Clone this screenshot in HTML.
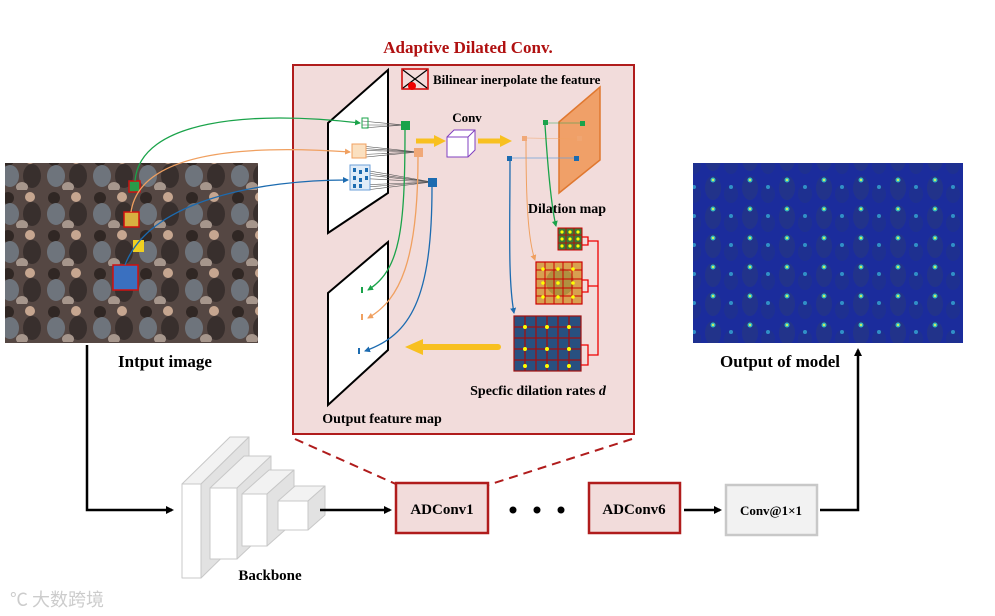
<!DOCTYPE html>
<html><head><meta charset="utf-8"><style>
body{margin:0;background:#fff;width:995px;height:616px;overflow:hidden}
svg{display:block;font-family:"Liberation Serif",serif;font-weight:bold}
</style></head><body>
<svg width="995" height="616" viewBox="0 0 995 616" xmlns="http://www.w3.org/2000/svg">
<defs>
<marker id="ak" markerWidth="8" markerHeight="8" refX="6" refY="4" orient="auto" markerUnits="userSpaceOnUse"><path d="M0,0 L8,4 L0,8 z" fill="#000"/></marker>
<marker id="ag" markerWidth="6" markerHeight="6" refX="5" refY="3" orient="auto" markerUnits="userSpaceOnUse"><path d="M0,0 L6,3 L0,6 z" fill="#1aa34a"/></marker>
<marker id="ao" markerWidth="6" markerHeight="6" refX="5" refY="3" orient="auto" markerUnits="userSpaceOnUse"><path d="M0,0 L6,3 L0,6 z" fill="#f0a060"/></marker>
<marker id="ab" markerWidth="6" markerHeight="6" refX="5" refY="3" orient="auto" markerUnits="userSpaceOnUse"><path d="M0,0 L6,3 L0,6 z" fill="#1c6bb0"/></marker>
<pattern id="crowd" width="46" height="38" patternUnits="userSpaceOnUse">
<rect width="46" height="38" fill="#4a4240"/>
<circle cx="8" cy="8" r="6" fill="#1c1a1a"/><ellipse cx="10" cy="24" rx="9" ry="11" fill="#6a7a88"/>
<circle cx="30" cy="7" r="5" fill="#d8b8a0"/><ellipse cx="32" cy="24" rx="9" ry="12" fill="#262425"/>
<ellipse cx="22" cy="35" rx="6" ry="5" fill="#b0a49c"/>
</pattern>
<pattern id="heat" width="37" height="29" patternUnits="userSpaceOnUse">
<rect width="37" height="29" fill="#1b2c9c"/>
<ellipse cx="10" cy="14" rx="8" ry="12" fill="#22338a"/><circle cx="10" cy="6" r="2.5" fill="#30b8c0"/><circle cx="10" cy="6" r="1.2" fill="#c8f060"/>
<ellipse cx="28" cy="20" rx="7" ry="9" fill="#1e3090"/><circle cx="28" cy="13" r="2" fill="#3090c8"/>
</pattern>
</defs>

<!-- input image -->
<rect x="5" y="163" width="253" height="180" fill="url(#crowd)"/>
<rect x="5" y="163" width="253" height="180" fill="#806050" opacity="0.2"/>
<rect x="129" y="181" width="11" height="11" fill="#2a9a4a" stroke="#d01010" stroke-width="1.5"/>
<rect x="124" y="212" width="15" height="15" fill="#d8b040" stroke="#d01010" stroke-width="1.5"/>
<rect x="133" y="240" width="11" height="12" fill="#f0d020"/>
<rect x="113" y="265" width="25" height="25" fill="#3a70c0" stroke="#d01010" stroke-width="1.5"/>
<text x="165" y="367" font-size="17" text-anchor="middle">Intput image</text>

<!-- output image -->
<rect x="693" y="163" width="270" height="180" fill="url(#heat)"/>
<text x="780" y="367" font-size="17" text-anchor="middle">Output of model</text>

<!-- title & box -->
<text x="468" y="53" font-size="17" fill="#b01010" text-anchor="middle">Adaptive Dilated Conv.</text>
<rect x="293" y="65" width="341" height="369" fill="#f2dcdb" stroke="#b01c1c" stroke-width="2"/>

<!-- legend -->
<rect x="402" y="69" width="26" height="20" fill="#f2dcdb" stroke="#c00" stroke-width="1.5"/>
<path d="M403,70 L427,88 M427,70 L403,88" stroke="#000" stroke-width="1.2"/>
<circle cx="412" cy="86" r="4" fill="#e00"/>
<text x="433" y="84" font-size="13">Bilinear inerpolate the feature</text>

<!-- feature maps -->
<polygon points="328,123 388,70 388,193 328,233" fill="#fff" stroke="#000" stroke-width="2"/>
<polygon points="328,293 388,242 388,350 328,405" fill="#fff" stroke="#000" stroke-width="2"/>

<!-- kernels -->
<g stroke="#555" stroke-width="0.6">
<path d="M362,121 L404,125 M362,125 L404,125 M362,128 L404,125"/>
<path d="M352,145 L418,152 M352,150 L418,152 M352,155 L418,152 M356,148 L418,152 M356,158 L418,152"/>
<path d="M353,168 L432,182 M353,178 L432,182 M353,188 L432,182 M360,172 L432,182 M360,185 L432,182 M366,175 L432,182 M366,190 L432,182"/>
</g>
<rect x="362" y="118" width="6" height="10" fill="none" stroke="#1aa34a" stroke-width="1"/>
<rect x="352" y="144" width="14" height="14" fill="#fbe0c0" stroke="#f0a060" stroke-width="1"/>
<rect x="350" y="165" width="20" height="25" fill="#e0ecf8" stroke="#6ea0d8" stroke-width="1"/>
<g fill="#1c6bb0"><rect x="353" y="168" width="3" height="4"/><rect x="359" y="170" width="3" height="4"/><rect x="365" y="168" width="3" height="4"/><rect x="353" y="176" width="3" height="4"/><rect x="359" y="178" width="3" height="4"/><rect x="365" y="176" width="3" height="4"/><rect x="353" y="184" width="3" height="4"/><rect x="359" y="184" width="3" height="4"/></g>
<rect x="401" y="121" width="9" height="9" fill="#1aa34a"/>
<rect x="414" y="148" width="9" height="9" fill="#f0a878"/>
<rect x="428" y="178" width="9" height="9" fill="#1c6bb0"/>

<!-- curves from image -->
<path d="M135,181 C140,120 250,110 360,123" fill="none" stroke="#1aa34a" stroke-width="1.3" marker-end="url(#ag)"/>
<path d="M131,212 C140,150 250,145 350,152" fill="none" stroke="#f0a060" stroke-width="1.3" marker-end="url(#ao)"/>
<path d="M125,265 C150,200 260,180 348,180" fill="none" stroke="#1c6bb0" stroke-width="1.3" marker-end="url(#ab)"/>

<!-- curves to output map -->
<path d="M405,130 C405,230 400,270 368,290" fill="none" stroke="#1aa34a" stroke-width="1.3" marker-end="url(#ag)"/>
<rect x="361" y="287" width="2" height="6" fill="#1aa34a"/>
<path d="M418,157 C418,260 400,300 368,318" fill="none" stroke="#f0a060" stroke-width="1.3" marker-end="url(#ao)"/>
<rect x="361" y="314" width="2" height="6" fill="#f0a060"/>
<path d="M432,187 C432,300 410,335 365,351" fill="none" stroke="#1c6bb0" stroke-width="1.3" marker-end="url(#ab)"/>
<rect x="358" y="348" width="2" height="6" fill="#1c6bb0"/>

<!-- conv -->
<path d="M416,141 L437,141" stroke="#f8c020" stroke-width="5"/><polygon points="434,135 446,141 434,147" fill="#f8c020"/>
<polygon points="447,137 454,130 475,130 475,150 468,157 447,157" fill="#fff" stroke="#8040c0" stroke-width="1"/>
<path d="M447,137 L468,137 L475,130 M468,137 L468,157" fill="none" stroke="#8040c0" stroke-width="1"/>
<text x="467" y="122" font-size="13" text-anchor="middle">Conv</text>
<path d="M478,141 L502,141" stroke="#f8c020" stroke-width="5"/><polygon points="500,135 512,141 500,147" fill="#f8c020"/>

<!-- dilation map -->
<polygon points="559,122 600,87 600,160 559,193" fill="#f0a068" stroke="#e07830" stroke-width="1.5"/>
<path d="M582,123 L548,123" stroke="#1aa34a" stroke-width="0.8" opacity="0.6"/>
<path d="M578,139 L526,138" stroke="#f0a060" stroke-width="0.8" opacity="0.6"/>
<path d="M577,158 L512,158" stroke="#6ea0d8" stroke-width="0.8"/>
<rect x="543" y="120" width="5" height="5" fill="#1aa34a"/><rect x="580" y="121" width="5" height="5" fill="#1aa34a"/>
<rect x="522" y="136" width="5" height="5" fill="#f0a878"/><rect x="577" y="136" width="5" height="5" fill="#f0a878" opacity="0.6"/>
<rect x="507" y="156" width="5" height="5" fill="#1c6bb0"/><rect x="574" y="156" width="5" height="5" fill="#1c6bb0"/>
<text x="567" y="213" font-size="14" text-anchor="middle">Dilation map</text>

<path d="M545,125 C548,170 552,210 556,226" fill="none" stroke="#1aa34a" stroke-width="1.3" marker-end="url(#ag)"/>
<path d="M526,141 C526,200 528,240 535,260" fill="none" stroke="#f0a060" stroke-width="1" marker-end="url(#ao)"/>
<path d="M510,161 C510,230 508,280 514,313" fill="none" stroke="#1c6bb0" stroke-width="1.3" marker-end="url(#ab)"/>

<!-- grids -->
<g>
<rect x="558" y="228" width="24" height="22" fill="#3a7a3a" stroke="#c00" stroke-width="1"/>
<path d="M566,228 V250 M574,228 V250 M558,235 H582 M558,243 H582" stroke="#c00" stroke-width="0.8"/>
<g fill="#ff0"><circle cx="562" cy="232" r="1.6"/><circle cx="570" cy="232" r="1.6"/><circle cx="578" cy="232" r="1.6"/><circle cx="562" cy="239" r="1.6"/><circle cx="570" cy="239" r="1.6"/><circle cx="578" cy="239" r="1.6"/><circle cx="562" cy="246" r="1.6"/><circle cx="570" cy="246" r="1.6"/><circle cx="578" cy="246" r="1.6"/></g>
</g>
<g>
<rect x="536" y="262" width="46" height="42" fill="#d8a050" stroke="#c00" stroke-width="1.2"/>
<ellipse cx="560" cy="282" rx="14" ry="14" fill="#b09040"/>
<path d="M545,262 V304 M554,262 V304 M563,262 V304 M572,262 V304 M536,270 H582 M536,279 H582 M536,288 H582 M536,296 H582" stroke="#c00" stroke-width="1"/>
<g fill="#ff0"><circle cx="543" cy="269" r="1.8"/><circle cx="558" cy="269" r="1.8"/><circle cx="573" cy="269" r="1.8"/><circle cx="543" cy="283" r="1.8"/><circle cx="558" cy="283" r="1.8"/><circle cx="573" cy="283" r="1.8"/><circle cx="543" cy="297" r="1.8"/><circle cx="558" cy="297" r="1.8"/><circle cx="573" cy="297" r="1.8"/></g>
</g>
<g>
<rect x="514" y="316" width="67" height="55" fill="#285080" stroke="#a01010" stroke-width="1.2"/>
<path d="M525,316 V371 M536,316 V371 M547,316 V371 M558,316 V371 M569,316 V371 M514,327 H581 M514,338 H581 M514,349 H581 M514,360 H581" stroke="#a01010" stroke-width="1.3"/>
<g fill="#ff0"><circle cx="525" cy="327" r="2"/><circle cx="547" cy="327" r="2"/><circle cx="569" cy="327" r="2"/><circle cx="525" cy="349" r="2"/><circle cx="547" cy="349" r="2"/><circle cx="569" cy="349" r="2"/><circle cx="525" cy="366" r="2"/><circle cx="547" cy="366" r="2"/><circle cx="569" cy="366" r="2"/></g>
</g>
<!-- red brackets -->
<g fill="none" stroke="#e00" stroke-width="1.3">
<path d="M582,237 H588 V245 H582 M588,241 H598 V355 H588"/>
<path d="M582,280 H588 V292 H582 M588,286 H598"/>
<path d="M581,345 H588 V365 H581"/>
</g>
<path d="M498,347 H420" stroke="#f8c020" stroke-width="6" stroke-linecap="round"/>
<polygon points="423,339 405,347 423,355" fill="#f8c020"/>

<text x="538" y="395" font-size="14" text-anchor="middle">Specfic dilation rates <tspan font-style="italic">d</tspan></text>
<text x="382" y="423" font-size="14" text-anchor="middle">Output feature map</text>

<!-- dashed -->
<path d="M295,439 L398,485 M632,439 L488,485" stroke="#b01c1c" stroke-width="2" stroke-dasharray="9,6"/>

<!-- backbone -->
<g stroke="#c8c8c8" stroke-width="1" stroke-linejoin="round">
<polygon points="182,484 230,437 249,437 201,484" fill="#f2f2f2"/>
<polygon points="201,484 249,437 249,531 201,578" fill="#e2e2e2"/>
<rect x="182" y="484" width="19" height="94" fill="#fff"/>
<polygon points="210,488 244,456 271,456 237,488" fill="#f2f2f2"/>
<polygon points="237,488 271,456 271,527 237,559" fill="#e2e2e2"/>
<rect x="210" y="488" width="27" height="71" fill="#fff"/>
<polygon points="242,494 269,470 294,470 267,494" fill="#f2f2f2"/>
<polygon points="267,494 294,470 294,522 267,546" fill="#e2e2e2"/>
<rect x="242" y="494" width="25" height="52" fill="#fff"/>
<polygon points="278,501 295,486 325,486 308,501" fill="#f2f2f2"/>
<polygon points="308,501 325,486 325,515 308,530" fill="#e2e2e2"/>
<rect x="278" y="501" width="30" height="29" fill="#fff"/>
</g>
<text x="270" y="580" font-size="15" text-anchor="middle">Backbone</text>

<!-- flow -->
<path d="M87,345 V510 H172" fill="none" stroke="#000" stroke-width="2.5" marker-end="url(#ak)"/>
<path d="M320,510 H390" fill="none" stroke="#000" stroke-width="2.5" marker-end="url(#ak)"/>
<rect x="396" y="483" width="92" height="50" fill="#f2dcdb" stroke="#b01c1c" stroke-width="2.5"/>
<text x="442" y="514" font-size="15" text-anchor="middle">ADConv1</text>
<g fill="#000"><circle cx="513" cy="510" r="3.5"/><circle cx="537" cy="510" r="3.5"/><circle cx="561" cy="510" r="3.5"/></g>
<rect x="589" y="483" width="91" height="50" fill="#f2dcdb" stroke="#b01c1c" stroke-width="2.5"/>
<text x="634" y="514" font-size="15" text-anchor="middle">ADConv6</text>
<path d="M684,510 H720" fill="none" stroke="#000" stroke-width="2.5" marker-end="url(#ak)"/>
<rect x="726" y="485" width="91" height="50" fill="#f2f2f2" stroke="#c8c8c8" stroke-width="2.5"/>
<text x="771" y="515" font-size="13" text-anchor="middle">Conv@1×1</text>
<path d="M820,510 H858 V350" fill="none" stroke="#000" stroke-width="2.5" marker-end="url(#ak)"/>

<text x="10" y="606" font-size="18" fill="#ccc" font-family="'Noto Sans CJK SC',sans-serif" font-weight="normal">℃ 大数跨境</text>
</svg>
</body></html>
